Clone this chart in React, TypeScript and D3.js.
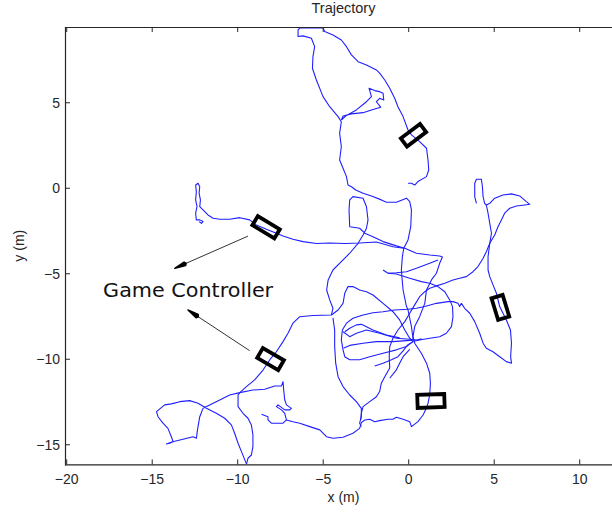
import React from 'react';
import * as d3 from 'd3';

type P = [number, number];

// ---- axis data ----
const X_TICKS = [-20, -15, -10, -5, 0, 5, 10];
const Y_TICKS = [-15, -10, -5, 0, 5];
const X_DOMAIN: P = [-20.1, 12.5];
const Y_DOMAIN: P = [-16.15, 9.43];
const TITLE = 'Trajectory';
const X_LABEL = 'x (m)';
const Y_LABEL = 'y (m)';

// ---- trajectory segments (metres) ----
const SEG_TOP_LOOP: P[] = [
  [-0.04, 0.29], [0.16, 0.29], [0.35, 0.19], [0.54, 0.39], [1.04, 0.68], [1.17, 1.07], [1.13, 1.65],
  [1.04, 2.34], [0.64, 2.73], [0.16, 3.12], [-0.04, 3.41], [-0.33, 4.19], [-0.63, 4.77], [-0.82, 5.26],
  [-1.11, 5.85], [-1.4, 6.33], [-1.7, 6.73], [-1.89, 6.92], [-2.47, 7.21], [-2.96, 7.4], [-3.35, 7.8],
  [-3.64, 8.28], [-3.94, 8.67], [-4.43, 8.96], [-4.91, 9.16], [-5.01, 9.37], [-6.37, 9.37], [-6.47, 9.26],
  [-6.47, 8.87], [-6.18, 8.91], [-5.69, 8.77], [-5.5, 8.28], [-5.6, 7.7], [-5.63, 7.02], [-5.4, 6.33],
  [-5.01, 5.36], [-4.62, 4.77], [-4.13, 4.19], [-3.94, 3.89], [-4.04, 3.22], [-3.94, 2.43], [-4.04, 1.65],
  [-3.84, 1.17], [-3.64, 0.68], [-3.55, 0.19], [-3.35, 0.09], [-3.1, -0.1], [-2.67, -0.29], [-2.18, -0.45],
  [-1.6, -0.68], [-1.3, -0.82], [-0.72, -0.82], [-0.13, -0.58], [0.06, -0.78], [0.16, -1.27], [0.12, -2.25],
  [-0.04, -3.02], [-0.29, -3.51], [-0.37, -4.0], [-0.43, -4.78], [-0.33, -5.95], [-0.13, -6.92], [-0.04, -7.12],
  [0.16, -8.09], [0.25, -8.77], [0.35, -9.06], [0.74, -9.65], [1.04, -10.23], [1.23, -10.82], [1.27, -11.4],
  [1.23, -12.08], [1.13, -12.57], [0.99, -12.96], [0.84, -13.26], [0.54, -13.65], [0.16, -13.94], [0.06, -13.65],
  [-0.33, -13.51], [-0.72, -13.39], [-0.92, -13.51], [-1.21, -13.51], [-1.7, -13.59], [-1.99, -13.65],
  [-2.28, -13.51], [-2.57, -13.55], [-2.77, -13.71], [-2.87, -14.04], [-3.26, -14.33], [-3.84, -14.56],
  [-4.43, -14.62], [-4.81, -14.53], [-5.2, -14.13], [-5.79, -13.94], [-6.37, -13.74], [-6.77, -13.65],
  [-7.15, -13.55], [-7.35, -13.74], [-8.03, -13.74], [-8.23, -13.55], [-8.23, -13.36], [-8.61, -13.22],
];

const SEG_INNER_LOOP: P[] = [
  [-3.94, 3.99], [-3.64, 4.26], [-3.06, 4.58], [-2.47, 5.06], [-2.18, 5.36], [-2.32, 5.85], [-1.99, 5.71],
  [-1.7, 5.65], [-1.5, 5.56], [-1.46, 5.16], [-1.7, 5.26], [-1.89, 5.06], [-1.64, 4.74], [-2.18, 4.58],
  [-2.67, 4.42], [-3.35, 4.35], [-3.84, 4.23], [-3.94, 3.99],
];

const SEG_WEST_ARM: P[] = [
  [-12.26, -1.95], [-12.12, -2.05], [-12.03, -1.95], [-12.22, -1.85], [-12.42, -1.85], [-12.46, -1.46],
  [-12.38, -1.08], [-12.46, -0.68], [-12.42, -0.2], [-12.46, 0.19], [-12.32, 0.29], [-12.22, 0.09],
  [-12.26, -0.29], [-12.18, -0.68], [-12.22, -1.08], [-12.03, -1.27], [-11.74, -1.56], [-11.44, -1.75],
  [-11.05, -1.81], [-10.47, -1.81], [-9.88, -1.72], [-9.3, -1.85], [-8.91, -2.15], [-8.32, -2.4],
  [-7.74, -2.63], [-7.35, -2.79], [-6.77, -2.98], [-6.18, -3.12], [-5.4, -3.23], [-4.62, -3.2],
  [-3.74, -3.23], [-2.87, -3.2], [-1.89, -3.14], [-0.92, -3.42], [-0.29, -3.51],
];

const SEG_SW_ARM: P[] = [
  [-9.49, -16.15], [-9.4, -15.79], [-9.2, -15.6], [-9.11, -15.11], [-9.11, -14.42], [-9.2, -13.84],
  [-9.4, -13.45], [-9.69, -13.16], [-9.98, -12.77], [-9.98, -12.09], [-9.88, -11.95], [-9.49, -11.6],
  [-9.01, -11.21], [-8.52, -10.63], [-8.13, -10.04], [-7.74, -9.56], [-7.35, -8.97], [-7.06, -8.48],
  [-6.77, -7.89], [-6.37, -7.51], [-5.6, -7.44], [-4.52, -7.41], [-4.43, -7.02], [-4.62, -6.53],
  [-4.8, -5.95], [-4.71, -5.36], [-4.43, -4.78], [-3.94, -4.29], [-3.45, -3.8], [-2.96, -3.22],
  [-2.67, -2.73], [-2.47, -2.34], [-2.38, -1.85], [-2.47, -1.08], [-2.67, -0.58], [-3.26, -0.49],
  [-3.45, -0.68], [-3.49, -1.27], [-3.45, -2.25], [-2.87, -2.34], [-2.57, -2.63], [-2.09, -2.83],
  [-1.5, -3.12], [-0.72, -3.37], [-0.23, -3.51], [0.45, -3.8], [1.23, -3.9], [1.81, -3.96], [1.97, -4.02],
  [1.81, -4.39], [1.62, -4.97], [1.33, -5.36], [1.04, -5.95], [0.94, -6.73], [0.64, -7.51], [0.35, -8.09],
  [0.25, -8.68], [0.35, -9.06],
];

const SEG_HOOK_A: P[] = [
  [-1.5, -4.78], [-1.21, -4.97], [-0.72, -4.94], [-0.13, -4.88], [0.45, -4.68], [1.23, -4.39], [1.71, -4.19],
];

const SEG_HOOK_B: P[] = [
  [-1.21, -4.97], [-0.72, -5.01], [0.06, -5.26], [0.74, -5.46], [1.23, -5.56], [1.71, -5.75], [2.11, -6.05],
  [2.4, -6.53], [2.56, -6.92], [2.59, -7.51], [2.5, -8.09], [2.2, -8.48], [1.81, -8.68], [1.23, -8.77],
  [0.64, -8.87], [0.35, -8.93],
];

const SEG_EAST_ARM: P[] = [
  [3.96, -0.88], [3.86, -0.49], [3.86, 0.29], [3.96, 0.53], [4.25, 0.53], [4.31, 0.09], [4.35, -0.49],
  [4.44, -0.88], [4.54, -0.98], [4.74, -0.88], [5.03, -0.58], [5.51, -0.39], [6.01, -0.33], [6.49, -0.45],
  [6.88, -0.78], [7.08, -0.94], [6.78, -0.98], [6.3, -1.04], [5.91, -1.17], [5.61, -1.46], [5.42, -1.85],
  [5.22, -2.25], [5.03, -2.73], [4.74, -3.22], [4.54, -3.71], [4.35, -4.09], [4.05, -4.58], [3.76, -4.88],
  [3.37, -5.17], [2.98, -5.26], [2.59, -5.36], [2.11, -5.56], [1.62, -5.71], [1.23, -5.85], [0.94, -6.05],
  [0.64, -6.34], [0.35, -6.82], [0.06, -7.31], [-0.23, -7.8], [-0.63, -8.29], [-0.92, -8.77], [-1.11, -9.26],
  [-1.14, -9.85], [-1.11, -10.51], [-1.4, -11.02], [-1.6, -11.4], [-1.7, -11.89], [-1.89, -12.19],
  [-2.28, -12.48], [-2.67, -12.77], [-2.77, -13.16], [-2.81, -13.55],
];

const SEG_EAST_LOOP: P[] = [
  [4.54, -0.98], [4.64, -1.46], [4.74, -2.05], [4.84, -2.63], [4.74, -3.22], [4.64, -4.0], [4.64, -4.78],
  [4.74, -5.17], [4.93, -5.65], [5.13, -6.14], [5.32, -6.92], [5.71, -7.7], [5.95, -8.29], [6.01, -9.06],
  [5.96, -9.85], [6.01, -10.23], [5.71, -10.14], [5.32, -9.85], [4.93, -9.56], [4.54, -9.36], [4.35, -9.06],
  [4.15, -8.48], [3.86, -7.8], [3.57, -7.31], [3.27, -7.02], [3.08, -6.73], [2.98, -6.92], [2.88, -6.73],
  [2.59, -6.63], [2.3, -6.63], [1.62, -6.73], [0.94, -6.92], [0.45, -7.02], [-0.04, -7.08], [-0.82, -7.12],
  [-1.5, -7.22], [-2.09, -7.28], [-2.67, -7.41], [-3.26, -7.6], [-3.64, -7.89], [-3.88, -8.29], [-3.94, -8.87],
  [-3.84, -9.45], [-3.74, -9.85], [-3.45, -10.03], [-2.87, -10.03], [-2.28, -9.85], [-1.5, -9.65],
  [-0.72, -9.45], [-0.13, -9.26], [0.25, -8.97],
];

const SEG_LOBE_TOP: P[] = [
  [-4.52, -7.41], [-4.13, -7.12], [-3.84, -6.73], [-3.74, -6.14], [-3.55, -5.75], [-3.26, -5.75],
  [-2.87, -5.95], [-2.47, -6.05], [-2.09, -6.24], [-1.5, -6.73], [-0.92, -7.22], [-0.53, -7.7],
  [-0.23, -8.29], [0.06, -8.77], [0.25, -8.99],
];

const SEG_LOWER_LEFT: P[] = [
  [-4.43, -7.58], [-4.33, -8.29], [-4.33, -9.26], [-4.27, -10.23], [-4.13, -11.02], [-3.84, -11.6],
  [-3.45, -12.09], [-3.06, -12.48], [-2.77, -12.87], [-2.77, -13.36], [-2.87, -13.74], [-2.77, -13.94],
];

const SEG_CENTER_HOOK: P[] = [
  [-1.99, -10.39], [-1.5, -10.23], [-1.01, -10.03], [-0.63, -9.85], [-0.33, -9.51], [-0.06, -9.16], [0.25, -8.97],
];

const SEG_STRAND_1: P[] = [
  [-3.84, -8.39], [-3.45, -8.68], [-3.06, -8.48], [-2.47, -8.29], [-1.7, -8.48], [-0.72, -8.77], [0.06, -8.83],
  [0.45, -8.87], [0.76, -8.81],
];
const SEG_STRAND_2: P[] = [
  [-3.74, -8.39], [-3.45, -8.19], [-3.06, -7.99], [-2.77, -7.96], [-2.09, -8.29], [-1.3, -8.58], [-0.53, -8.75],
];
const SEG_STRAND_3: P[] = [
  [-3.8, -9.34], [-3.45, -9.19], [-2.67, -9.06], [-1.89, -8.97], [-0.92, -8.97], [-0.13, -8.91], [0.35, -8.87],
];
const SEG_STRAND_4: P[] = [
  [0.06, -9.42], [-0.33, -9.85], [-0.53, -10.23], [-0.72, -10.62], [-1.11, -11.11],
];

const SEG_SW_LOOP: P[] = [
  [-9.49, -16.12], [-9.78, -15.4], [-9.98, -14.91], [-10.18, -14.33], [-10.37, -13.84], [-10.76, -13.45],
  [-11.25, -13.16], [-11.83, -12.87], [-12.32, -12.57], [-12.81, -12.42], [-13.39, -12.48], [-13.88, -12.61],
  [-14.27, -12.67], [-14.75, -13.06], [-14.66, -13.36], [-14.37, -13.74], [-14.08, -14.04], [-13.88, -14.53],
  [-13.78, -14.82], [-13.98, -14.91], [-14.17, -14.95], [-13.86, -14.84], [-13.2, -14.68], [-12.61, -14.53],
  [-12.41, -14.62], [-12.37, -14.25], [-12.32, -13.94], [-12.22, -13.36], [-12.03, -12.87], [-11.64, -12.67],
  [-11.05, -12.38], [-10.47, -12.09], [-9.88, -11.95],
];

const SEG_SW_SQUIGGLE: P[] = [
  [-9.88, -11.95], [-9.11, -11.8], [-8.42, -11.75], [-7.84, -11.56], [-7.44, -11.56], [-7.35, -11.31],
  [-7.31, -11.8], [-7.25, -12.38], [-7.15, -12.67], [-6.86, -12.87], [-6.96, -12.96], [-7.25, -12.96],
  [-7.64, -12.67], [-7.74, -12.77], [-7.44, -12.96], [-7.25, -13.16], [-7.15, -13.55],
];

const TRAJECTORY: P[][] = [
  SEG_TOP_LOOP, SEG_INNER_LOOP, SEG_WEST_ARM, SEG_SW_ARM, SEG_HOOK_A, SEG_HOOK_B, SEG_EAST_ARM,
  SEG_EAST_LOOP, SEG_LOBE_TOP, SEG_LOWER_LEFT, SEG_CENTER_HOOK, SEG_STRAND_1, SEG_STRAND_2,
  SEG_STRAND_3, SEG_STRAND_4, SEG_SW_LOOP, SEG_SW_SQUIGGLE,
];

// ---- game controllers: centre (m), heading (deg), length & width (m) ----
const CONTROLLER_X = [0.28, -8.34, -8.08, 1.3, 5.36];
const CONTROLLER_Y = [3.1, -2.28, -9.99, -12.44, -6.97];
const CONTROLLER_ANGLE = [37, -31, -30, 2, -73];
const CONTROLLER_LEN = [1.4, 1.5, 1.42, 1.58, 1.32];
const CONTROLLER_WID = [0.6, 0.62, 0.66, 0.76, 0.68];

// ---- annotation ----
const ANNOTATION = 'Game Controller';
const ANNOTATION_AT: P = [-17.87, -6.34];
const ARROW_FROM: P[] = [[-9.4, -2.8], [-9.3, -9.5]];
const ARROW_TO: P[] = [[-13.68, -4.68], [-12.91, -7.12]];

const W = 612;
const H = 515;
const K = 17.1; // px per metre (axis equal)
const LEFT = 65;
const TOP = 27;

export default function App() {
  const x = d3.scaleLinear().domain(X_DOMAIN).range([LEFT, LEFT + (X_DOMAIN[1] - X_DOMAIN[0]) * K]);
  const y = d3.scaleLinear().domain(Y_DOMAIN).range([TOP + (Y_DOMAIN[1] - Y_DOMAIN[0]) * K, TOP]);
  const x0 = LEFT;
  const x1 = x(X_DOMAIN[1]);
  const y0 = y(Y_DOMAIN[0]);
  const y1 = TOP;
  const line = d3.line<P>().x((d) => x(d[0])).y((d) => y(d[1]));
  const font = '"Liberation Sans", Arial, Helvetica, sans-serif';
  const fmt = (v: number) => (v < 0 ? '\u2212' + Math.abs(v) : String(v));

  const boxes = CONTROLLER_X.map((cx, i) => {
    const a = (CONTROLLER_ANGLE[i] * Math.PI) / 180;
    const hl = CONTROLLER_LEN[i] / 2;
    const hw = CONTROLLER_WID[i] / 2;
    const ux = Math.cos(a), uy = Math.sin(a);
    const vx = -uy, vy = ux;
    const cy = CONTROLLER_Y[i];
    const pts: P[] = [
      [cx + ux * hl + vx * hw, cy + uy * hl + vy * hw],
      [cx - ux * hl + vx * hw, cy - uy * hl + vy * hw],
      [cx - ux * hl - vx * hw, cy - uy * hl - vy * hw],
      [cx + ux * hl - vx * hw, cy + uy * hl - vy * hw],
    ];
    return pts.map((p) => `${x(p[0])},${y(p[1])}`).join(' ');
  });

  const arrows = ARROW_FROM.map((f, i) => {
    const t = ARROW_TO[i];
    const fx = x(f[0]), fy = y(f[1]), tx = x(t[0]), ty = y(t[1]);
    const len = Math.hypot(tx - fx, ty - fy);
    const ux = (tx - fx) / len, uy = (ty - fy) / len;
    const hx = tx - ux * 11, hy = ty - uy * 11;
    const px = -uy, py = ux;
    const head = [
      [tx, ty],
      [hx + px * 2, hy + py * 2],
      [hx - ux * 1.5, hy - uy * 1.5],
      [hx - px * 2, hy - py * 2],
    ].map((p) => p.join(',')).join(' ');
    return { fx, fy, hx, hy, head };
  });

  return (
    <svg width={W} height={H} style={{ position: 'absolute', left: 0, top: 0, background: '#fff' }}>
      <defs>
        <clipPath id="plotclip">
          <rect x={x0} y={y1} width={x1 - x0} height={y0 - y1} />
        </clipPath>
      </defs>
      <rect x={0} y={0} width={W} height={H} fill="#fff" />
      <g clipPath="url(#plotclip)">
        {TRAJECTORY.map((seg, i) => (
          <path key={i} d={line(seg) || ''} fill="none" stroke="#1f1fff" strokeWidth={1.1} strokeLinejoin="round" />
        ))}
        {boxes.map((pts, i) => (
          <polygon key={i} points={pts} fill="none" stroke="#000" strokeWidth={3.8} strokeLinejoin="miter" />
        ))}
      </g>
      {arrows.map((a, i) => (
        <g key={i}>
          <line x1={a.fx} y1={a.fy} x2={a.hx} y2={a.hy} stroke="#333" strokeWidth={1} />
          <polygon points={a.head} fill="#000" stroke="#000" strokeWidth={1.4} strokeLinejoin="round" />
        </g>
      ))}
      <text x={x(ANNOTATION_AT[0])} y={y(ANNOTATION_AT[1])} fontFamily='"DejaVu Sans", sans-serif' fontSize={20.3}
        fill="#111" textLength={170} lengthAdjust="spacingAndGlyphs">{ANNOTATION}</text>
      {/* axes box */}
      <line x1={x0} x2={x1} y1={y0 + 0.5} y2={y0 + 0.5} stroke="#262626" strokeWidth={1.2} />
      <line x1={x0} x2={x1} y1={y1 + 0.5} y2={y1 + 0.5} stroke="#262626" strokeWidth={1.2} />
      <line x1={x0 + 0.5} x2={x0 + 0.5} y1={y1} y2={y0 + 1} stroke="#262626" strokeWidth={1.2} />
      {X_TICKS.map((t) => (
        <g key={'xt' + t}>
          <line x1={x(t)} x2={x(t)} y1={y0} y2={y0 - 5} stroke="#262626" strokeWidth={1} />
          <line x1={x(t)} x2={x(t)} y1={y1} y2={y1 + 5} stroke="#262626" strokeWidth={1} />
          <text x={x(t)} y={y0 + 20} textAnchor="middle" fontFamily={font} fontSize={14} fill="#262626">{fmt(t)}</text>
        </g>
      ))}
      {Y_TICKS.map((t) => (
        <g key={'yt' + t}>
          <line x1={x0} x2={x0 + 5} y1={y(t)} y2={y(t)} stroke="#262626" strokeWidth={1} />
          <text x={x0 - 5} y={y(t)} dy="0.35em" textAnchor="end" fontFamily={font} fontSize={14} fill="#262626">{fmt(t)}</text>
        </g>
      ))}
      <text x={343.5} y={13} textAnchor="middle" fontFamily={font} fontSize={14.5} fill="#262626">{TITLE}</text>
      <text x={343.5} y={502} textAnchor="middle" fontFamily={font} fontSize={14} fill="#262626">{X_LABEL}</text>
      <text transform={`translate(24,${(y0 + y1) / 2}) rotate(-90)`} textAnchor="middle" fontFamily={font} fontSize={14} fill="#262626">{Y_LABEL}</text>
    </svg>
  );
}
